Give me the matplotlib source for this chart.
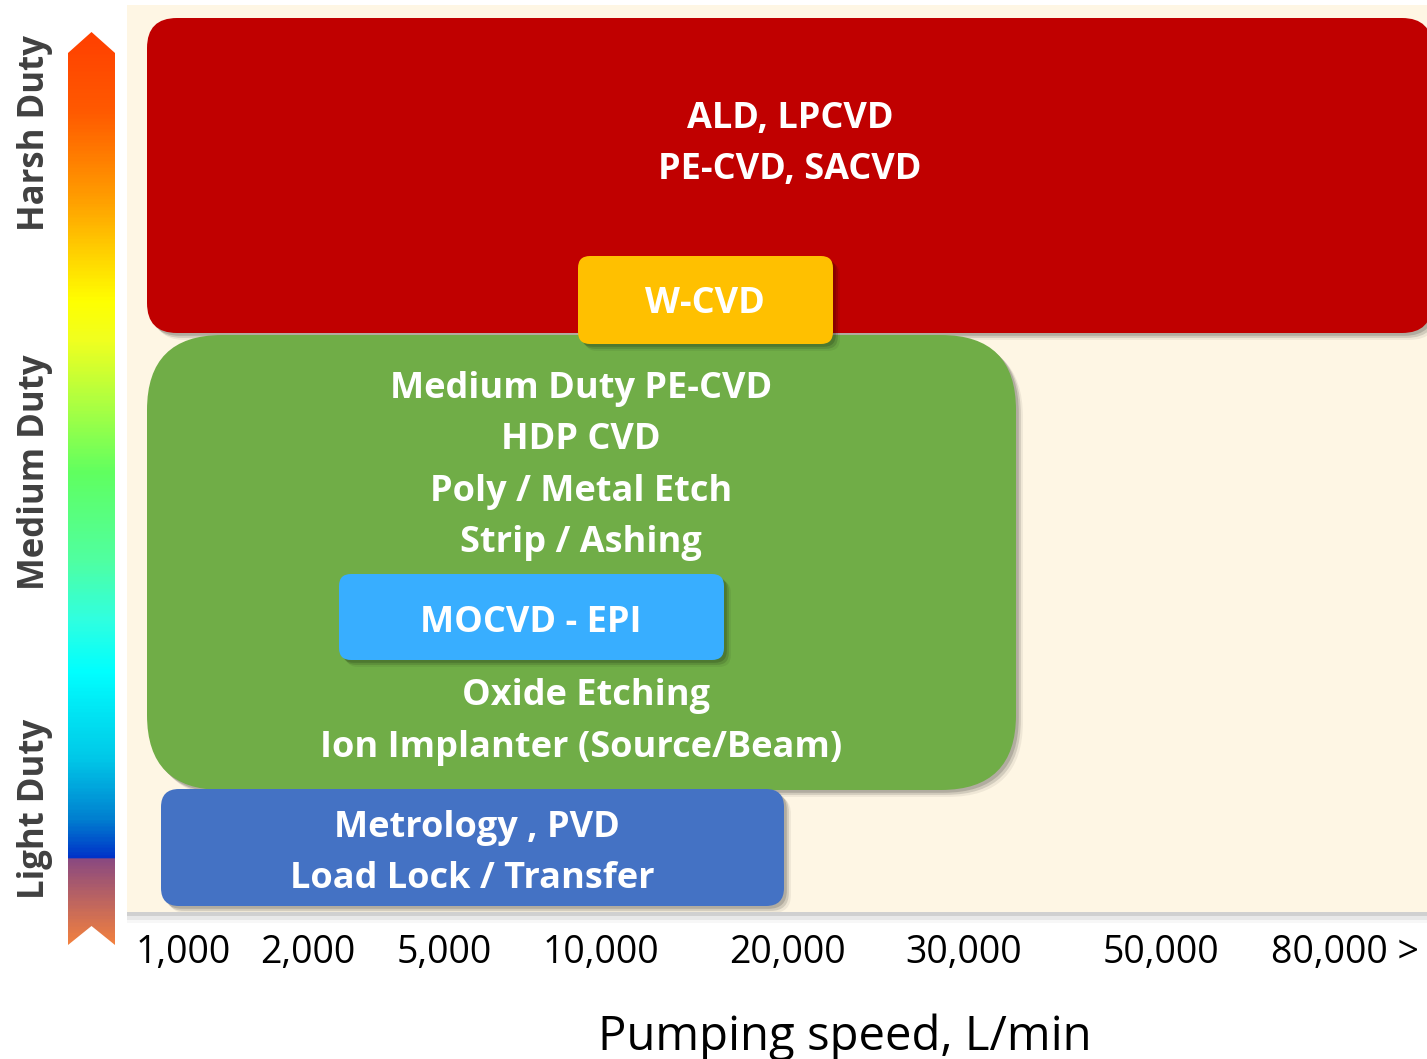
import matplotlib.pyplot as plt
import matplotlib.patheffects as pe
import numpy as np
from matplotlib.colors import LinearSegmentedColormap
from matplotlib.patches import FancyBboxPatch, Polygon, Rectangle

plt.rcParams['font.family'] = ['Open Sans', 'DejaVu Sans']

W, H = 1427, 1059  # canvas size in pixels (dpi 100)

# --- Pumping speed axis ---
speed_labels = ["1,000", "2,000", "5,000", "10,000", "20,000",
                "30,000", "50,000", "80,000 >"]
speed_pos = [183, 308, 444, 601, 787, 964, 1161, 1345]

# --- Application groups, in drawing order ---
group_x0 = [147, 147, 578, 339, 161]
group_x1 = [1432, 1016, 833, 724, 784]
group_top = [18, 335, 256, 574, 789]
group_bottom = [333, 790, 344, 660, 906]
group_colors = ["#C00000", "#70AD47", "#FFC000", "#38AEFF", "#4472C4"]
group_radius = [30, 75, 12, 12, 18]

# --- Application labels: text, x centre, baseline ---
app_text = ["ALD, LPCVD", "PE-CVD, SACVD", "W-CVD",
            "Medium Duty PE-CVD", "HDP CVD", "Poly / Metal Etch", "Strip / Ashing",
            "MOCVD - EPI", "Oxide Etching", "Ion Implanter (Source/Beam)",
            "Metrology , PVD", "Load Lock / Transfer"]
app_x = [790, 790, 705, 581, 581, 581, 581, 531, 586, 581, 477, 472]
app_base = [128, 179, 313, 398, 449, 501, 552, 632, 705, 757, 837, 888]

# --- Duty scale on the left ---
duty_labels = ["Harsh Duty", "Medium Duty", "Light Duty"]
duty_y = [133, 472, 809]

# gradient stops along the arrow (pixel row, colour)
grad_rows = [32, 110, 200, 300, 340, 400, 473, 560, 620, 673, 760, 820, 861,
             862, 945]
grad_cols = ["#FF4000", "#FF5A00", "#FFA000", "#FFFF00", "#F0FF20", "#B0FF40",
             "#60FF60", "#50FFA0", "#30FFE0", "#00FFFF", "#00C8E8", "#0080D0",
             "#0030C8", "#8B4A80", "#F08040"]

fig = plt.figure(figsize=(W / 100, H / 100), dpi=100)

# full-canvas overlay for the duty arrow and its labels
ax_bg = fig.add_axes([0, 0, 1, 1])
ax_bg.set_xlim(0, W)
ax_bg.set_ylim(H, 0)
ax_bg.axis("off")

stops = [(r - grad_rows[0]) / (grad_rows[-1] - grad_rows[0]) for r in grad_rows]
cmap = LinearSegmentedColormap.from_list("duty", list(zip(stops, grad_cols)))
arrow = Polygon([(68, 53), (91.5, 32), (115, 53), (115, 945), (91.5, 926),
                 (68, 945)], closed=True, facecolor="none", edgecolor="none")
ax_bg.add_patch(arrow)
grad = np.linspace(0, 1, 600).reshape(-1, 1)
im = ax_bg.imshow(grad, cmap=cmap, aspect="auto", interpolation="bilinear",
                  extent=[68, 115, grad_rows[-1], grad_rows[0]])
im.set_clip_path(arrow)

for label, y in zip(duty_labels, duty_y):
    ax_bg.text(35, y, label, rotation=90, ha="center", va="center",
               fontsize=25, fontweight="bold", color="#404040")

# main panel
left, right, top, bottom = 127, 1427, 5, 912
ax = fig.add_axes([left / W, 1 - bottom / H, (right - left) / W, (bottom - top) / H])
ax.set_xlim(left, right)
ax.set_ylim(bottom, top)
ax.patch.set_visible(False)
for s in ax.spines.values():
    s.set_visible(False)

panel = Rectangle((left, top), right - left, bottom - top, facecolor="#FEF6E4",
                  edgecolor="none", clip_on=False, zorder=0)
panel.set_path_effects([pe.SimplePatchShadow(offset=(0, -3), shadow_rgbFace="k", alpha=0.10),
                        pe.SimplePatchShadow(offset=(0, -6), shadow_rgbFace="k", alpha=0.06),
                        pe.SimplePatchShadow(offset=(0, -8), shadow_rgbFace="k", alpha=0.03),
                        pe.Normal()])
ax.add_patch(panel)

shadow = [pe.SimplePatchShadow(offset=(2, -2), shadow_rgbFace="k", alpha=0.15),
          pe.SimplePatchShadow(offset=(3.5, -3.5), shadow_rgbFace="k", alpha=0.12),
          pe.SimplePatchShadow(offset=(5, -5), shadow_rgbFace="k", alpha=0.06),
          pe.Normal()]

for i in range(len(group_colors)):
    box = FancyBboxPatch((group_x0[i], group_top[i]),
                         group_x1[i] - group_x0[i], group_bottom[i] - group_top[i],
                         boxstyle=f"round,pad=0,rounding_size={group_radius[i]}",
                         facecolor=group_colors[i], edgecolor="none",
                         zorder=2 + i)
    box.set_path_effects(shadow)
    ax.add_patch(box)

for i, txt in enumerate(app_text):
    ax.text(app_x[i], app_base[i], txt, ha="center", va="baseline",
            fontsize=26, fontweight="bold", color="white", zorder=10)

ax.set_xticks(speed_pos)
ax.set_xticklabels(speed_labels, fontsize=27)
ax.tick_params(axis="x", length=0, pad=16)
ax.set_yticks([])
ax.set_xlabel("Pumping speed, L/min", fontsize=34, labelpad=30)
ax.xaxis.label.set_x((845 - left) / (right - left))

fig.savefig("out.png", dpi=100)
